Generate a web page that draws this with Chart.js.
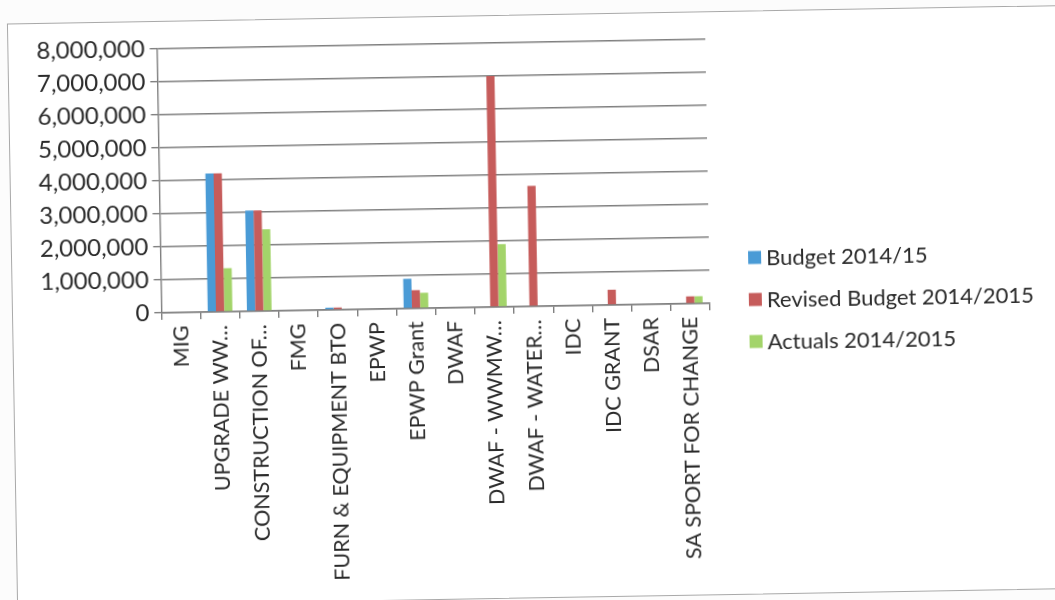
<!DOCTYPE html>
<html>
<head>
<meta charset="utf-8">
<script src="https://cdn.jsdelivr.net/npm/chart.js@4.4.1/dist/chart.umd.min.js"></script>
<style>
  html, body { margin: 0; padding: 0; background: #fcfcfc; overflow: hidden; width: 1055px; height: 600px; }
  #sheet {
    position: absolute; left: 0; top: 0; width: 1055px; height: 600px;
    transform: rotate(-1deg); transform-origin: 153px 313px;
  }
  #frame {
    position: absolute; left: 12px; top: 21px; width: 1100px; height: 582px;
    border: 1px solid #a9a9a9; background: #fff;
  }
  #budgetChart { position: absolute; left: 0; top: 0; }
</style>
</head>
<body>
<div id="sheet">
  <div id="frame"></div>
  <canvas id="budgetChart" width="1055" height="600"></canvas>
</div>
<script>
// Categories and series values
const categories = [
  "MIG", "UPGRADE WW…", "CONSTRUCTION OF…", "FMG", "FURN & EQUIPMENT BTO",
  "EPWP", "EPWP Grant", "DWAF", "DWAF - WWMW…", "DWAF - WATER…",
  "IDC", "IDC GRANT", "DSAR", "SA SPORT FOR CHANGE"
];

const budget  = [0, 4200000, 3050000, 0, 70000, 0, 900000, 0, 0, 0, 0, 0, 0, 0];
const revised = [0, 4200000, 3050000, 0, 70000, 0, 550000, 0, 7000000, 3650000, 0, 460000, 0, 220000];
const actuals = [0, 1320000, 2480000, 0, 20000, 0, 470000, 0, 1900000, 0, 0, 0, 0, 220000];

const yTicks = [0, 1000000, 2000000, 3000000, 4000000, 5000000, 6000000, 7000000, 8000000];

const seriesNames = ["Budget 2014/15", "Revised Budget 2014/2015", "Actuals 2014/2015"];
const seriesColors = ["#4a9bd6", "#c65c5b", "#a3d46a"];

const gridColor = "#7f7f7f";
const textColor = "#2a2a2a";
const fontFamily = "Lato, 'Open Sans', sans-serif";

// Legend drawn to the right of the plot, one row per dataset
const sideLegend = {
  id: "sideLegend",
  afterDraw(chart, args, opts) {
    const c = chart.ctx;
    c.save();
    c.font = opts.fontSize + "px " + fontFamily;
    c.textBaseline = "middle";
    c.textAlign = "left";
    chart.data.datasets.forEach((ds, i) => {
      const y = opts.top + i * opts.rowGap;
      c.fillStyle = ds.backgroundColor;
      c.fillRect(opts.left, y - opts.box / 2, opts.box, opts.box);
      c.fillStyle = textColor;
      c.fillText(ds.label, opts.left + opts.box + 5, y + 1);
    });
    c.restore();
  }
};

const ctx = document.getElementById("budgetChart").getContext("2d");

new Chart(ctx, {
  type: "bar",
  data: {
    labels: categories,
    datasets: [budget, revised, actuals].map((values, i) => ({
      label: seriesNames[i],
      data: values,
      backgroundColor: seriesColors[i],
      borderWidth: 0,
      categoryPercentage: 0.63,
      barPercentage: 1.0
    }))
  },
  plugins: [sideLegend],
  options: {
    responsive: false,
    animation: false,
    layout: {
      padding: { left: 36, top: 49, right: 345, bottom: 15 }
    },
    plugins: {
      tooltip: { enabled: false },
      legend: { display: false },
      sideLegend: { left: 749, top: 268, rowGap: 42, box: 13, fontSize: 22 }
    },
    scales: {
      x: {
        offset: true,
        // the long rotated labels need more than half the canvas height
        afterFit: scale => { scale.height = 272; },
        grid: {
          offset: true,
          drawOnChartArea: false,
          color: gridColor,
          lineWidth: 1.4,
          tickLength: 7
        },
        border: { color: gridColor, width: 1.4 },
        ticks: {
          color: textColor,
          font: { family: fontFamily, size: 21.5 },
          autoSkip: false,
          minRotation: 90,
          maxRotation: 90,
          padding: 6
        }
      },
      y: {
        min: 0,
        max: 8000000,
        afterBuildTicks: axis => {
          axis.ticks = yTicks.map(v => ({ value: v }));
        },
        grid: {
          color: gridColor,
          lineWidth: 1.4,
          tickLength: 7
        },
        border: { color: gridColor, width: 1.4 },
        ticks: {
          color: textColor,
          font: { family: fontFamily, size: 24 },
          padding: 5,
          callback: v => v.toLocaleString("en-US")
        }
      }
    }
  }
});
</script>
</body>
</html>
